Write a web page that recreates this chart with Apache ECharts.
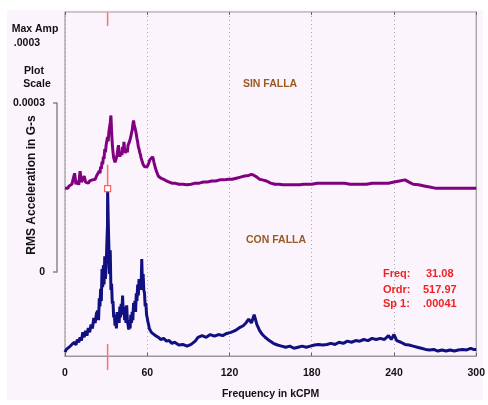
<!DOCTYPE html>
<html>
<head>
<meta charset="utf-8">
<script src="https://cdn.jsdelivr.net/npm/echarts@6/dist/echarts.min.js"></script>
<style>html,body{margin:0;padding:0;background:#fff;}#chart{width:488px;height:405px;}</style>
</head>
<body>
<div id="chart"></div>
<script>
// Amplitudes in units of 1e-5 G-s (0.0003 G-s = 30)
const xTicks = [0, 60, 120, 180, 240, 300];

const conFallaFreq = [0,1,2,3,4,5,6,7,8,9,10,11,12,13,14,15,16,17,18,19,20,21,22,23,
  24,24.5,25,25.5,26,26.5,27,27.5,28,28.5,29,29.5,30,30.5,31,31.1,31.5,32,32.5,33,33.5,34,34.5,35,35.5,36,36.5,37,37.5,38,38.5,39,39.5,40,40.5,41,41.5,42,42.5,43,43.5,44,44.5,45,45.5,46,46.5,47,47.5,48,48.5,49,49.5,50,50.5,51,51.5,52,52.5,53,53.5,54,54.5,55,55.5,56,56.5,57,57.5,58,58.5,59,59.5,60,60.5,61,61.5,62,
  63,64,66,68,70,72,74,76,78,80,83,86,89,92,95,97,100,103,106,109,112,115,118,121,124,127,130,132,134,136,138,140,142,144,146,149,152,155,158,161,164,167,170,173,176,179,182,185,188,191,194,197,200,203,206,209,212,215,218,221,224,227,230,233,236,238,240,242,245,248,251,254,257,260,263,266,269,272,275,278,281,284,287,290,293,296,298,300];
const conFallaAmp = [0.7,1.2,1.1,1.6,1.4,2.1,1.8,2.5,2.0,3.0,2.5,3.4,2.8,4.3,3.4,4.6,3.7,5.1,4.3,5.7,5.0,6.9,6.0,7.8,
  8.2,6.5,10.5,9.0,12.2,10.0,15.8,12.5,16.5,13.0,18.1,14.0,16.0,20.2,23.8,30.4,25.0,20.0,14.9,19.2,12.0,13.1,9.5,10.0,7.0,7.5,5.5,6.5,5.0,8.0,6.0,7.5,6.0,9.0,7.0,9.5,7.5,11.0,8.0,9.0,6.5,7.5,6.0,9.2,6.5,6.5,4.8,5.5,5.0,7.5,6.0,8.0,6.5,9.6,8.0,10.0,8.0,11.4,10.0,13.0,11.0,14.0,12.0,13.5,12.0,17.6,13.0,14.9,12.0,11.4,9.0,9.6,7.5,6.9,6.2,5.7,5.0,4.8,
  4.3,4.6,3.7,3.4,3.0,3.2,2.7,2.8,2.3,2.5,2.0,2.1,1.8,2.1,2.7,3.4,3.7,3.4,3.9,3.6,3.9,3.7,4.1,4.3,4.6,5.1,5.5,6.0,6.7,6.0,7.5,5.7,4.6,3.9,3.4,2.8,2.3,2.0,1.8,1.6,1.8,1.4,1.6,1.8,1.6,1.8,2.0,2.1,2.0,2.1,2.3,2.1,2.5,2.3,2.7,2.5,2.8,2.7,3.0,2.8,3.2,3.0,3.2,3.0,3.7,3.0,3.9,2.8,2.5,2.1,2.0,1.8,1.6,1.4,1.2,1.1,1.2,0.9,1.1,0.9,1.1,0.9,1.1,1.2,1.1,1.4,1.2,1.2];

const sinFallaFreq = [0,1,2,3,4,5,6,7,8,9,10,11,12,13,14,15,16,17,18,19,20,21,22,23,24,
  25,25.5,26,26.5,27,27.5,28,28.5,29,29.5,30,30.5,31,31.5,32,32.5,33,33.5,34,34.5,35,35.5,36,36.5,37,37.5,38,38.5,39,39.5,40,40.5,41,41.5,42,42.5,43,43.5,44,44.5,45,45.5,46,46.5,47,47.5,48,48.5,49,49.5,50,50.5,51,51.5,52,52.5,53,53.5,54,54.5,55,55.5,56,56.5,57,
  58,59,60,61,62,63,64,65,66,67,68,70,72,74,76,78,80,83,86,89,92,95,98,101,104,107,110,113,116,119,122,125,128,131,134,136,138,140,142,144,147,150,153,156,159,162,165,168,171,174,177,180,184,188,192,196,200,204,208,212,216,220,224,228,232,236,240,244,248,251,254,258,262,266,270,275,280,285,290,295,300];
const sinFallaAmp = [0.5,0.7,0.5,0.9,0.7,1.2,0.9,3.2,1.2,1.8,1.1,3.6,1.6,2.1,2.7,1.6,1.8,1.4,1.8,2.1,2.0,2.3,2.1,2.7,3.0,
  3.6,3.2,4.4,4.0,5.3,4.8,6.2,5.8,7.6,7.0,8.3,8.0,9.8,9.0,10.7,10.5,12.4,13.7,10.7,8.5,7.1,6.0,5.9,5.2,5.3,6.0,6.6,7.5,8.3,7.0,6.2,7.0,7.1,6.5,8.0,7.0,8.9,7.5,6.9,7.2,7.6,7.0,8.3,8.0,8.9,9.2,9.8,10.5,11.0,12.0,12.8,12.0,11.9,11.0,10.3,9.5,8.9,8.0,7.6,7.0,6.6,6.0,5.7,5.2,4.8,
  4.4,4.1,4.4,5.0,5.7,5.9,6.2,5.1,4.1,3.4,2.7,2.3,2.1,1.8,1.6,1.4,1.4,1.2,1.2,1.1,1.2,1.4,1.4,1.6,1.6,1.8,1.8,2.0,2.0,2.1,2.1,2.3,2.5,2.7,2.8,3.0,2.8,2.5,2.1,2.0,1.8,1.4,1.2,1.2,1.1,1.1,1.1,1.1,1.1,1.2,1.2,1.2,1.4,1.4,1.4,1.4,1.4,1.4,1.2,1.2,1.2,1.2,1.4,1.4,1.4,1.4,1.6,1.8,2.0,1.6,1.2,1.1,0.9,0.7,0.5,0.5,0.5,0.5,0.5,0.5,0.5];
const sinFallaOffset = 30;   // SIN FALLA trace is stacked one plot scale (0.0003) above
const yMaxUnits = 62.5;

const cursorFreq = 31.08;
const cursorAmp = 30.4;
const readout = [['Freq:', '31.08'], ['Ordr:', '517.97'], ['Sp 1:', '.00041']];

const FONT = '"Liberation Sans", Arial, sans-serif';
const chart = echarts.init(document.getElementById('chart'), null, {renderer: 'canvas'});

function txt(text, x, y, opts) {
  opts = opts || {};
  return {
    type: 'text', x: x, y: y, rotation: opts.rotation || 0, z: 50,
    style: {
      text: text, fill: opts.color || '#111', fontSize: opts.size || 10.5, fontWeight: 'bold',
      fontFamily: FONT, align: opts.align || 'left', verticalAlign: 'middle',
      textAlign: opts.align || 'left', textVerticalAlign: 'middle'
    }
  };
}

const graphics = [
  {type: 'rect', z: -100, shape: {x: 7, y: 10, width: 476, height: 390}, style: {fill: '#FCF4FC'}},
  txt('Max Amp', 35, 29, {align: 'center'}),
  txt('.0003', 27, 43, {align: 'center'}),
  txt('Plot', 34, 71, {align: 'center'}),
  txt('Scale', 37, 84, {align: 'center'}),
  txt('RMS Acceleration in G-s', 32, 185, {align: 'center', rotation: Math.PI / 2, size: 12}),
  txt('SIN FALLA', 270, 84, {align: 'center', color: '#9A5A24'}),
  txt('CON FALLA', 276, 240, {align: 'center', color: '#9A5A24'}),
  txt(readout[0][0], 383, 274, {color: '#F02222', size: 11}),
  txt(readout[0][1], 426, 274, {color: '#F02222', size: 11}),
  txt(readout[1][0], 383, 290, {color: '#F02222', size: 11}),
  txt(readout[1][1], 423, 290, {color: '#F02222', size: 11}),
  txt(readout[2][0], 383, 304, {color: '#F02222', size: 11}),
  txt(readout[2][1], 423, 304, {color: '#F02222', size: 11})
];

const option = {
  animation: false,
  backgroundColor: '#ffffff',
  graphic: graphics,
  grid: [
    {left: 65, top: 12, width: 418, height: 352, show: true, backgroundColor: '#FCF4FC', borderColor: '#9a9a9a', borderWidth: 1.2},
    {left: 57, top: 103, width: 1, height: 169, show: false}
  ],
  xAxis: [
    {
      type: 'value', gridIndex: 0, min: 0, max: 300, interval: 60,
      axisLine: {show: true, lineStyle: {color: '#9a9a9a', width: 1.2}},
      axisTick: {show: true, inside: true, length: 3, lineStyle: {color: '#666'}},
      axisLabel: {show: true, margin: 12, color: '#111', fontSize: 10.5, fontWeight: 'bold', fontFamily: FONT,
        formatter: function (v) { return xTicks.indexOf(v) >= 0 ? String(v) : ''; }},
      splitLine: {show: true, lineStyle: {color: '#a8a8a8', type: [1, 3], width: 1}},
      name: 'Frequency in kCPM', nameLocation: 'middle', nameGap: 33,
      nameTextStyle: {color: '#111', fontSize: 10.5, fontWeight: 'bold', fontFamily: FONT}
    },
    {
      type: 'value', gridIndex: 0, position: 'top', min: 0, max: 300, interval: 60,
      axisLine: {show: false}, axisLabel: {show: false}, splitLine: {show: false},
      axisTick: {show: true, inside: true, length: 3, lineStyle: {color: '#666'}}
    },
    {type: 'value', gridIndex: 1, show: false, min: 0, max: 1}
  ],
  yAxis: [
    {type: 'value', gridIndex: 0, min: 0, max: yMaxUnits, show: false},
    {
      type: 'value', gridIndex: 1, min: 0, max: 0.0003, interval: 0.0003,
      axisLine: {show: true, lineStyle: {color: '#888', width: 1.5}},
      axisTick: {show: true, length: 4, lineStyle: {color: '#888', width: 1.5}},
      axisLabel: {show: true, margin: 12, color: '#111', fontSize: 10.5, fontWeight: 'bold', fontFamily: FONT,
        formatter: function (v) { return v === 0 ? '0' : '0.0003'; }},
      splitLine: {show: false}
    }
  ],
  series: [
    {
      name: 'SIN FALLA', type: 'line', xAxisIndex: 0, yAxisIndex: 0, showSymbol: false, symbol: 'none',
      data: sinFallaFreq.map((f, i) => [f, sinFallaAmp[i] + sinFallaOffset]),
      lineStyle: {color: '#800080', width: 3}, z: 3
    },
    {
      name: 'CON FALLA', type: 'line', xAxisIndex: 0, yAxisIndex: 0, showSymbol: false, symbol: 'none',
      data: conFallaFreq.map((f, i) => [f, conFallaAmp[i]]),
      lineStyle: {color: '#101080', width: 3}, z: 3
    },
    {
      name: 'cursor', type: 'custom', xAxisIndex: 0, yAxisIndex: 0, z: 10,
      data: [[cursorFreq, cursorAmp]],
      renderItem: function (params, api) {
        const f = api.value(0), a = api.value(1);
        const p = api.coord([f, a]);
        const top = api.coord([f, yMaxUnits]);
        const bot = api.coord([f, 0]);
        const ls = {stroke: '#FF7070', lineWidth: 1.5};
        return {
          type: 'group',
          children: [
            {type: 'line', shape: {x1: p[0], y1: top[1], x2: p[0], y2: top[1] + 14}, style: ls},
            {type: 'line', shape: {x1: p[0], y1: p[1] - 24, x2: p[0], y2: p[1] - 3}, style: ls},
            {type: 'rect', shape: {x: p[0] - 3, y: p[1] - 3, width: 6, height: 6}, style: {fill: '#ffffff', stroke: '#FF6060', lineWidth: 1.2}},
            {type: 'line', shape: {x1: p[0], y1: bot[1] - 12, x2: p[0], y2: bot[1] + 14}, style: ls}
          ]
        };
      }
    }
  ]
};
chart.setOption(option);
</script>
</body>
</html>
